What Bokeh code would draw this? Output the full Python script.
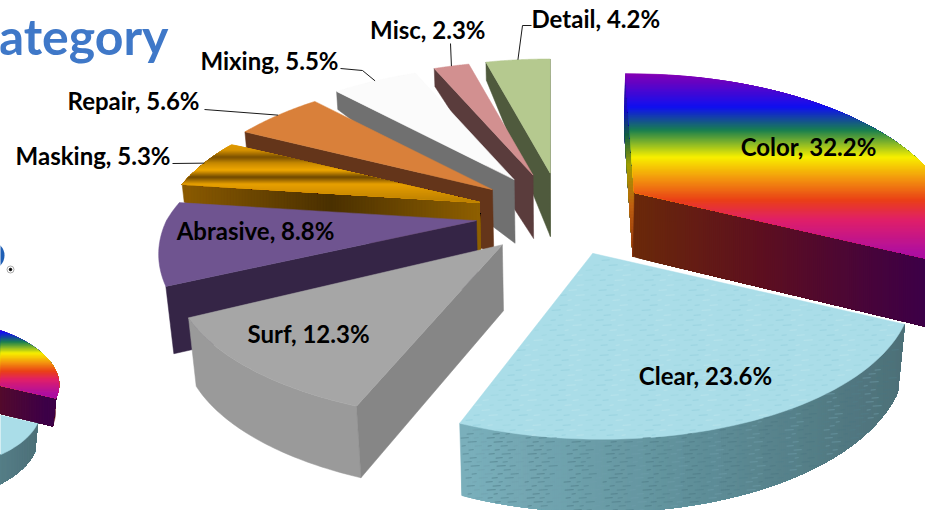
import math
from bokeh.plotting import figure
from bokeh.models import Range1d, ColumnDataSource
from bokeh.core.properties import value
from bokeh.embed import file_html
from bokeh.resources import INLINE

# ---- data ----
categories = ["Color", "Clear", "Surf", "Abrasive", "Masking", "Repair", "Mixing", "Misc", "Detail"]
shares = [32.2, 23.6, 12.3, 8.8, 5.3, 5.6, 5.5, 2.3, 4.2]
top_colors = ["#8b00b0", "#aadde8", "#a6a6a6", "#6f5490", "#e09a00", "#d9803a", "#fbfbfb", "#d29090", "#b5c98f"]
side_colors = ["#5e1020", "#5f8f99", "#868686", "#352546", "#7a5000", "#64351a", "#707070", "#5a3c3c", "#4f5a3d"]
arc_colors = ["#5e1020", "#5f8f99", "#9a9a9a", "#3d2b52", "#7a5000", "#64351a", "#707070", "#5a3c3c", "#4f5a3d"]
draw_order = ["Detail", "Misc", "Mixing", "Repair", "Masking", "Abrasive", "Surf", "Color", "Clear"]
title_text = "Category"

rainbow_y = [72, 107, 130, 157, 180, 200, 220, 252, 330]
rainbow_c = ["#8b00b0", "#1010f0", "#1a8050", "#f8f000", "#f39010", "#ea4018", "#e0206a", "#b010a0", "#9000a0"]
sliver_y = [72, 110, 135, 165, 205, 257]
sliver_c = ["#4010a0", "#1010c0", "#106040", "#a0a000", "#c06010", "#8a3010"]
color_wall_x = [632, 760, 925]
color_wall_c = ["#6b2a0a", "#5e1020", "#3d0048"]
clear_wall_x = [463, 700, 906]
clear_wall_c = ["#7bb0bc", "#5f8f99", "#4d7078"]
mask_y = [144, 150, 157, 163, 170, 177, 184, 190, 200]
mask_c = ["#e09a00", "#d89400", "#7a5000", "#c88a00", "#f0a800", "#6e4800", "#e8a000", "#d89400", "#c08400"]
mask_wall_x = [184, 330, 480]
mask_wall_c = ["#8a5a00", "#4a3000", "#8f6000"]

# ---- pie geometry ----
CX, CY = 561.0, 214.0
RX, RY, PERSP, PERSP_BACK = 310.0, 145.0, 0.22, 0.27
EX, EY = 86.0, 41.7
SHEAR = {"Color": 0.075, "Clear": 0.05}
# the reference's projection squeezes this slice slightly: (trim start, trim end, y scale, x scale)
VIEW_TRIM = {"Surf": (0.0, 4.0, 0.95, 1.03)}
NO_TRIM = (0.0, 0.0, 1.0, 1.0)


def hex_rgb(h):
    return tuple(int(h[i:i + 2], 16) for i in (1, 3, 5))


def ramp(pos, stops, cols):
    if pos <= stops[0]:
        return cols[0]
    for k in range(len(stops) - 1):
        if pos <= stops[k + 1]:
            t = (pos - stops[k]) / (stops[k + 1] - stops[k])
            a, b = hex_rgb(cols[k]), hex_rgb(cols[k + 1])
            return "#%02x%02x%02x" % tuple(round(a[j] + (b[j] - a[j]) * t) for j in range(3))
    return cols[-1]


spans = {}
acc = 0.0
total = sum(shares)
for name, s in zip(categories, shares):
    a0 = acc / total * 360
    acc += s
    spans[name] = (a0, acc / total * 360)


def apex(name):
    a0, a1 = spans[name]
    m = math.radians((a0 + a1) / 2)
    return CX + EX * math.sin(m), CY - EY * math.cos(m)


def view_span(name):
    a0, a1 = spans[name]
    t = VIEW_TRIM.get(name, NO_TRIM)
    return a0 + t[0], a1 - t[1]


def pt(name, r, deg):
    ax, ay = apex(name)
    t = math.radians(deg)
    c = math.cos(t)
    per = PERSP_BACK if (c > 0 and name != "Color") else PERSP
    k = 1 + per * r * c
    tr = VIEW_TRIM.get(name, NO_TRIM)
    dy = -RY * tr[2] * r * c / k
    return ax + RX * tr[3] * r * math.sin(t) / k + SHEAR.get(name, 0.0) * dy, ay + dy


def bottom(p, d):
    return p[0] - (p[0] - CX) * 0.0003 * d, p[1] + d


def depth(p):
    return 64 + (p[1] - 190) * 0.035


def outer_depth(p, deg):
    if 270 < deg < 360:
        return 18.0
    return depth(p) - (4 if deg == 0 else 0)


def arc(name, a0, a1, n=48):
    return [pt(name, 1, a0 + (a1 - a0) * i / n) for i in range(n + 1)]


def top_poly(name):
    a0, a1 = view_span(name)
    return [apex(name)] + arc(name, a0, a1)


def wall_poly(name, deg):
    q = apex(name)
    o = pt(name, 1, deg)
    return [q, o, bottom(o, outer_depth(o, deg)), bottom(q, depth(q))]


def arc_poly(name):
    a0, a1 = view_span(name)
    lo, hi = max(a0, 90), min(a1, 270)
    if lo >= hi or name == "Abrasive":
        return None
    upper = arc(name, lo, hi)
    lower = [bottom(p, depth(p)) for p in upper]
    return upper + lower[::-1]


def clip_high(poly, axis, lim):
    res = []
    for i in range(len(poly)):
        a, b = poly[i], poly[(i + 1) % len(poly)]
        ina, inb = a[axis] >= lim, b[axis] >= lim
        if ina:
            res.append(a)
        if ina != inb:
            t = (lim - a[axis]) / (b[axis] - a[axis])
            res.append((a[0] + (b[0] - a[0]) * t, a[1] + (b[1] - a[1]) * t))
    return res


def bands(poly, axis, stops, cols, step):
    # painter's bands: each one runs to the far end and the next paints over it
    out = []
    vals = [p[axis] for p in poly]
    v = min(vals)
    end = max(vals)
    while v < end:
        c = clip_high(poly, axis, v)
        if len(c) >= 3:
            out.append((c, ramp(v + step / 2, stops, cols)))
        v += step
    return out


def inside(p, poly):
    x, y = p
    hit = False
    for i in range(len(poly)):
        a, b = poly[i], poly[(i + 1) % len(poly)]
        if (a[1] > y) != (b[1] > y) and x < a[0] + (y - a[1]) * (b[0] - a[0]) / (b[1] - a[1]):
            hit = not hit
    return hit


def flecks(poly, cols, dx, dy):
    xs = [p[0] for p in poly]
    ys = [p[1] for p in poly]
    out = {c: ([], []) for c in cols}
    row = 0
    y = min(ys) + 2
    while y < max(ys):
        x = min(xs) + (row * 7) % dx
        col_i = 0
        while x < max(xs):
            if inside((x, y), poly) and inside((x + 9, y), poly):
                c = cols[(row * 3 + col_i) % len(cols)]
                out[c][0].append([x, x + 4 + (col_i * 3 + row) % 6])
                out[c][1].append([y, y - 0.5])
            x += dx
            col_i += 1
        y += dy
        row += 1
    return out


def slice_layers(name, fine):
    """Polygons of one slice, back to front, in the big pie's pixel space."""
    layers = []
    a0, a1 = view_span(name)
    i = categories.index(name)
    arc_p = arc_poly(name)
    if name == "Clear":
        layers += bands(arc_p, 0, clear_wall_x, clear_wall_c, 2 if fine else 6)
    elif arc_p:
        layers.append((arc_p, arc_colors[i]))
    for deg, normal in ((a0, a0 - 90), (a1, a1 + 90)):
        if math.cos(math.radians(normal)) <= 1e-9:
            w = wall_poly(name, deg)
            if name == "Color" and deg == a1:
                layers += bands(w, 0, color_wall_x, color_wall_c, 2 if fine else 6)
            elif name == "Color":
                layers += bands(w, 1, sliver_y, sliver_c, 3)
            elif name == "Masking":
                layers += bands(w, 0, mask_wall_x, mask_wall_c, 3)
            else:
                layers.append((w, side_colors[i]))
    t = top_poly(name)
    if name == "Color":
        layers += bands(t, 1, rainbow_y, rainbow_c, 1 if fine else 3)
    elif name == "Masking":
        layers += bands(t, 1, mask_y, mask_c, 1)
    else:
        layers.append((t, top_colors[i]))
    return layers


p = figure(width=925, height=510, output_backend="svg", toolbar_location=None,
           x_range=Range1d(0, 925), y_range=Range1d(510, 0), min_border=0,
           outline_line_color=None, background_fill_color="white", border_fill_color="white")
p.axis.visible = False
p.grid.visible = False


def draw(layers, ox=CX, oy=CY, sc=1.0):
    xs = [[ox + (q[0] - CX) * sc for q in poly] for poly, _ in layers]
    ys = [[oy + (q[1] - CY) * sc for q in poly] for poly, _ in layers]
    cs = [c for _, c in layers]
    src = ColumnDataSource(dict(xs=xs, ys=ys, c=cs))
    p.patches("xs", "ys", source=src, fill_color="c", line_color="c", line_width=0.5)


# small second pie at the lower left, showing the same two largest slices
SM_X, SM_Y, SM_S = -107.0, 377.0, 0.42
for nm in ("Color", "Clear"):
    draw(slice_layers(nm, False), SM_X, SM_Y, SM_S)

# main exploded pie
for nm in draw_order:
    draw(slice_layers(nm, True))
    if nm == "Clear":
        tex = flecks(top_poly(nm), ["#93cfdc", "#bde6ed", "#9cd5e0"], 15, 5)
        for c, (xs, ys) in tex.items():
            p.multi_line(xs, ys, line_color=c, line_width=1, line_alpha=0.7)
        tex = flecks(arc_poly(nm), ["#507e8a", "#6f9fab", "#4a7480"], 13, 4)
        for c, (xs, ys) in tex.items():
            p.multi_line(xs, ys, line_color=c, line_width=1, line_alpha=0.6)

# data labels
labels = {
    "Color": (808, 146, "center"), "Clear": (705, 375, "center"), "Surf": (308, 333, "center"),
    "Abrasive": (255, 230, "center"), "Masking": (170, 155, "right"), "Repair": (199, 100, "right"),
    "Mixing": (338, 60, "right"), "Misc": (485, 29, "right"), "Detail": (531, 18, "left"),
}
leader_start = {
    "Masking": [(172, 163)], "Repair": [(204, 109)], "Mixing": [(340, 68), (362, 70)],
    "Misc": [(450, 43)], "Detail": [(531, 25), (522, 25)],
}
for nm, anchor in leader_start.items():
    a0, a1 = spans[nm]
    pts = anchor + [pt(nm, 1, (a0 + a1) / 2)]
    p.line([q[0] for q in pts], [q[1] for q in pts], line_color="#1a1a1a", line_width=1)
for nm, (x, y, al) in labels.items():
    s = shares[categories.index(nm)]
    p.text([x], [y], text=[f"{nm}, {s}%"], text_font=value("Lato"), text_font_style="bold",
           text_font_size="24px", text_color="#000000", text_align=al, text_baseline="middle")

# fragments of the slide behind the chart
p.text([168], [35], text=[title_text], text_font=value("Lato"), text_font_style="bold",
       text_font_size="50px", text_color="#3f78c8", text_align="right", text_baseline="middle")
p.ellipse([-10], [255], width=28, height=28, fill_color="#1f5fb5", line_color=None)
p.scatter([10], [269], size=7, fill_color="white", line_color="#aaaaaa", line_width=1)
p.scatter([10], [269], size=2.5, fill_color="black", line_color="black")

open("out.html", "w").write(file_html(p, INLINE))
